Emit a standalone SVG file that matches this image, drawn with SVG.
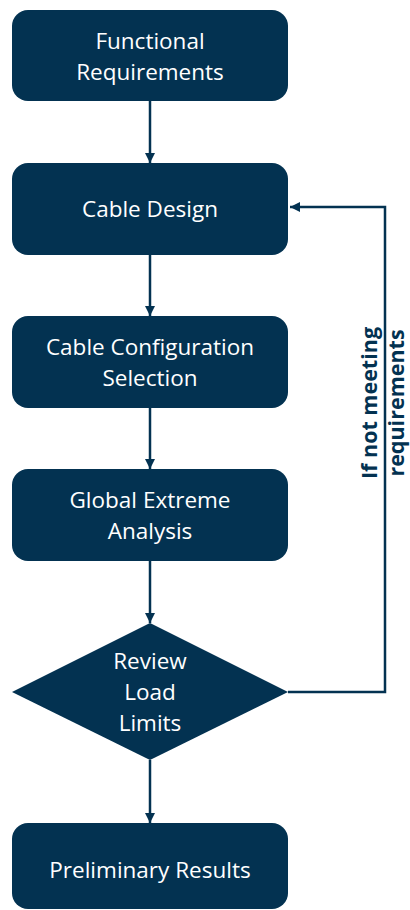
<svg xmlns="http://www.w3.org/2000/svg" width="410" height="910" viewBox="0 0 410 910">
<style>
.n{fill:#033251}
.t{fill:#fff;font-family:"Open Sans",sans-serif;font-size:22.5px;text-anchor:middle}
.c{stroke:#033251;stroke-width:2.5;fill:none}
.l{fill:#033251;font-family:"Open Sans",sans-serif;font-size:21.5px;font-weight:bold;text-anchor:middle}
</style>
<defs>
<marker id="a" viewBox="0 0 10 10" refX="10" refY="5" markerWidth="4" markerHeight="4" orient="auto" markerUnits="strokeWidth">
<path d="M0,0L10,5L0,10z" fill="#033251"/>
</marker>
</defs>
<rect width="410" height="910" fill="#fff"/>
<g id="connectors">
<line class="c" x1="150" y1="101" x2="150" y2="163" marker-end="url(#a)"/>
<line class="c" x1="150" y1="255" x2="150" y2="316" marker-end="url(#a)"/>
<line class="c" x1="150" y1="408" x2="150" y2="469" marker-end="url(#a)"/>
<line class="c" x1="150" y1="561" x2="150" y2="623" marker-end="url(#a)"/>
<line class="c" x1="150" y1="760" x2="150" y2="823" marker-end="url(#a)"/>
<polyline class="c" points="288,692 385,692 385,207 290,207" marker-end="url(#a)"/>
<text class="l" transform="translate(377,403) rotate(-90)">If not meeting</text>
<text class="l" transform="translate(404,403) rotate(-90)">requirements</text>
</g>
<g id="n1"><rect class="n" x="12" y="10" width="276" height="91" rx="16"/>
<text class="t" x="150" y="49">Functional</text><text class="t" x="150" y="80">Requirements</text></g>
<g id="n2"><rect class="n" x="12" y="163" width="276" height="92" rx="16"/>
<text class="t" x="150" y="217">Cable Design</text></g>
<g id="n3"><rect class="n" x="12" y="316" width="276" height="92" rx="16"/>
<text class="t" x="150" y="355">Cable Configuration</text><text class="t" x="150" y="386">Selection</text></g>
<g id="n4"><rect class="n" x="12" y="469" width="276" height="92" rx="16"/>
<text class="t" x="150" y="508">Global Extreme</text><text class="t" x="150" y="539">Analysis</text></g>
<g id="n5"><polygon class="n" points="150,623 288,692 150,760 12,692"/>
<text class="t" x="150" y="669">Review</text><text class="t" x="150" y="700">Load</text><text class="t" x="150" y="731">Limits</text></g>
<g id="n6"><rect class="n" x="12" y="823" width="276" height="86" rx="16"/>
<text class="t" x="150" y="878">Preliminary Results</text></g>
</svg>
